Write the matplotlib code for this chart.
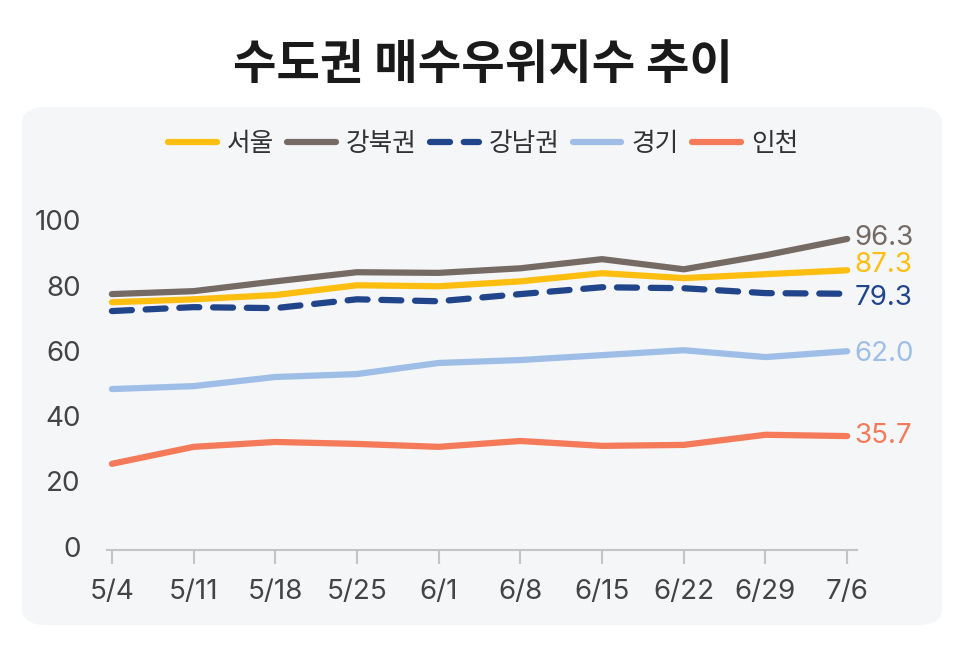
import matplotlib
matplotlib.use('Agg')
import matplotlib.pyplot as plt
from matplotlib.patches import FancyBboxPatch

plt.rcParams['font.family'] = ['Noto Sans CJK KR', 'DejaVu Sans']
num_font = ['Inter', 'Noto Sans CJK KR']

# 데이터
dates = ['5/4', '5/11', '5/18', '5/25', '6/1', '6/8', '6/15', '6/22', '6/29', '7/6']
seoul = [74.9, 75.8, 77.1, 80.1, 79.8, 81.3, 83.8, 82.3, 83.5, 84.7]
gangbuk = [77.4, 78.3, 81.3, 84.1, 83.9, 85.3, 88.1, 85.0, 89.3, 94.3]
gangnam = [72.2, 73.4, 73.1, 75.8, 75.2, 77.4, 79.5, 79.2, 77.7, 77.5]
gyeonggi = [48.3, 49.2, 52.0, 52.9, 56.3, 57.2, 58.7, 60.2, 58.1, 59.9]
incheon = [25.4, 30.6, 32.1, 31.5, 30.6, 32.4, 30.9, 31.2, 34.3, 33.9]
names = ['서울', '강북권', '강남권', '경기', '인천']
end_labels = ['87.3', '96.3', '79.3', '62.0', '35.7']
y_ticks = [0, 20, 40, 60, 80, 100]

series = [seoul, gangbuk, gangnam, gyeonggi, incheon]
colors = ['#FDBE0F', '#766B64', '#21458A', '#9EBEE7', '#F47A59']
styles = ['-', '-', '--', '-', '-']
label_dy = [4, 1, -3, -2, 0]

fig = plt.figure(figsize=(9.66, 6.59), dpi=100)

# 배경 패널
panel = FancyBboxPatch((22 / 966, 34 / 659), 920 / 966, 518 / 659,
                       boxstyle='round,pad=0,rounding_size=0.025',
                       transform=fig.transFigure, facecolor='#F5F6F8',
                       edgecolor='none', zorder=-5)
fig.patches.append(panel)

fig.text(0.5, 0.902, '수도권 매수우위지수 추이', ha='center', va='center',
         fontsize=34, fontweight='bold', color='#1a1a1a')

ax = fig.add_axes([107 / 966, 109 / 659, 750 / 966, 346 / 659])
ax.set_zorder(2)
ax.set_facecolor('none')
x = list(range(len(dates)))

handles = []
for vals, name, c, ls in zip(series, names, colors, styles):
    ln, = ax.plot(x, vals, color=c, lw=4.5, ls=ls, label=name,
                  solid_capstyle='round', dash_capstyle='round',
                  solid_joinstyle='round')
    if ls == '--':
        ln.set_dashes((3.2, 2.2))
    handles.append(ln)

for vals, lab, c, dy in zip(series, end_labels, colors, label_dy):
    ax.annotate(lab, (x[-1], vals[-1]), xytext=(5, dy), textcoords='offset points',
                ha='left', va='center', fontsize=20, color=c,
                family=num_font, annotation_clip=False)

ax.set_xlim(-0.06, 9.12)
ax.set_ylim(-1, 105)
ax.set_xticks(x)
ax.set_xticklabels(dates)
ax.set_yticks(y_ticks)
for s in ['top', 'right', 'left']:
    ax.spines[s].set_visible(False)
ax.spines['bottom'].set_color('#C4C4C4')
ax.spines['bottom'].set_linewidth(1.5)
ax.tick_params(axis='x', direction='out', length=10, width=1.5, color='#C4C4C4',
               labelsize=20, labelcolor='#444444', pad=11)
ax.tick_params(axis='y', length=0, labelsize=20, labelcolor='#444444', pad=19)
for t in ax.get_xticklabels() + ax.get_yticklabels():
    t.set_family(num_font)

fig.legend(handles=handles, loc='center', bbox_to_anchor=(0.5, 0.782), ncol=5,
           frameon=False, fontsize=18.5, handlelength=1.9, handletextpad=0.4,
           columnspacing=0.5, labelcolor='#333333')

fig.savefig('out.png', dpi=100)
